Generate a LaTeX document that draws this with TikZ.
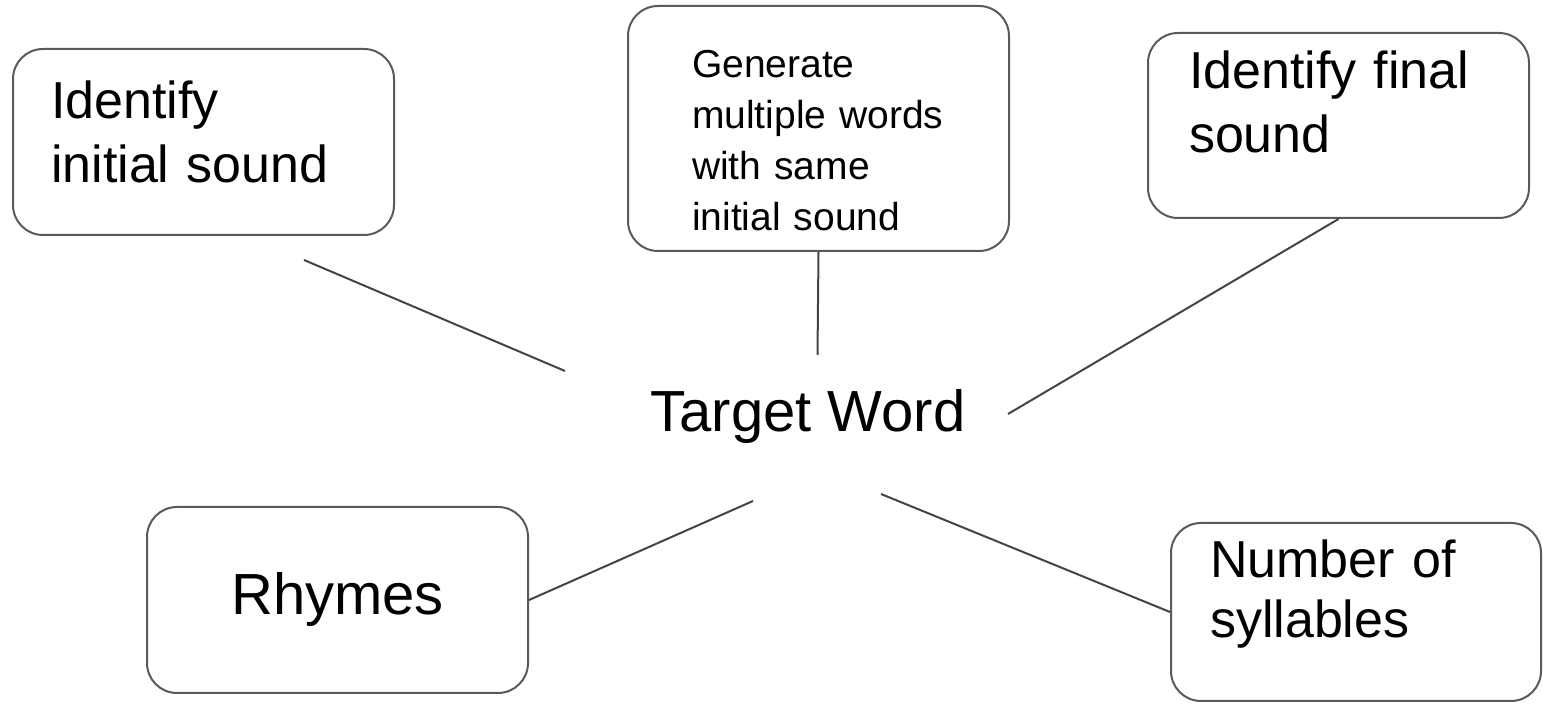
\documentclass[tikz,border=0pt]{standalone}
\usepackage{fontspec}
\setmainfont{Liberation Sans}
\definecolor{boxgray}{HTML}{5A5A5A}
\definecolor{spokegray}{HTML}{444444}
\tikzset{	topic/.style={ 
		draw=boxgray,
		line width=1pt,
		rounded corners=15pt,
		anchor=north west,
		align=left,
		inner xsep=0pt,
		inner ysep=0pt,
		minimum width=190.5pt,
		font=\fontsize{26}{32}\selectfont},
	spoke/.style={  
		draw=spokegray,
		line width=1pt}
}
\begin{document}
\begin{tikzpicture}[x=0.5pt, y=-0.5pt]
			\useasboundingbox (0,0) rectangle (1543,704);
			\node[topic, text width=152.5pt, text height=35pt, text depth=58pt] (init) at (12,48) {Identify\\initial sound};
			\node[topic, text width=126.5pt, text height=36pt, text depth=86.5pt, font=\fontsize{19.5}{25.5}\selectfont] (gen) at (627,5) {Generate\\multiple words\\with same\\initial sound};
			\node[topic, text width=149.5pt, text height=28pt, text depth=64.5pt] (final) at (1147,32) {Identify final\\sound};
			\node[topic, anchor=center, align=center, minimum height=93pt, font=\fontsize{29}{35}\selectfont] (rhy) at (337.5,600) {Rhymes};
			\node[topic, minimum width=185pt, text width=146pt, text height=27.5pt, text depth=61.5pt, font=\fontsize{26}{30}\selectfont] (num) at (1170,522) {Number of\\syllables};
			\node[anchor=base, font=\fontsize{29}{35}\selectfont] (tw) at (808,432) {Target Word};
			\coordinate (p0) at (304,260);
			\coordinate (p1) at (565,371);
			\coordinate (p2) at (817.5,355);
			\coordinate (p3) at (1008,414);
			\coordinate (p4) at (753,501);
			\coordinate (p5) at (881,494);
			\draw[spoke] (p0) -- (p1);
			\draw[spoke] (gen.south) -- (p2);
			\draw[spoke] (final.south) -- (p3);
			\draw[spoke] (rhy.east) -- (p4);
			\draw[spoke] (num.west) -- (p5);
		\end{tikzpicture}
\end{document}
